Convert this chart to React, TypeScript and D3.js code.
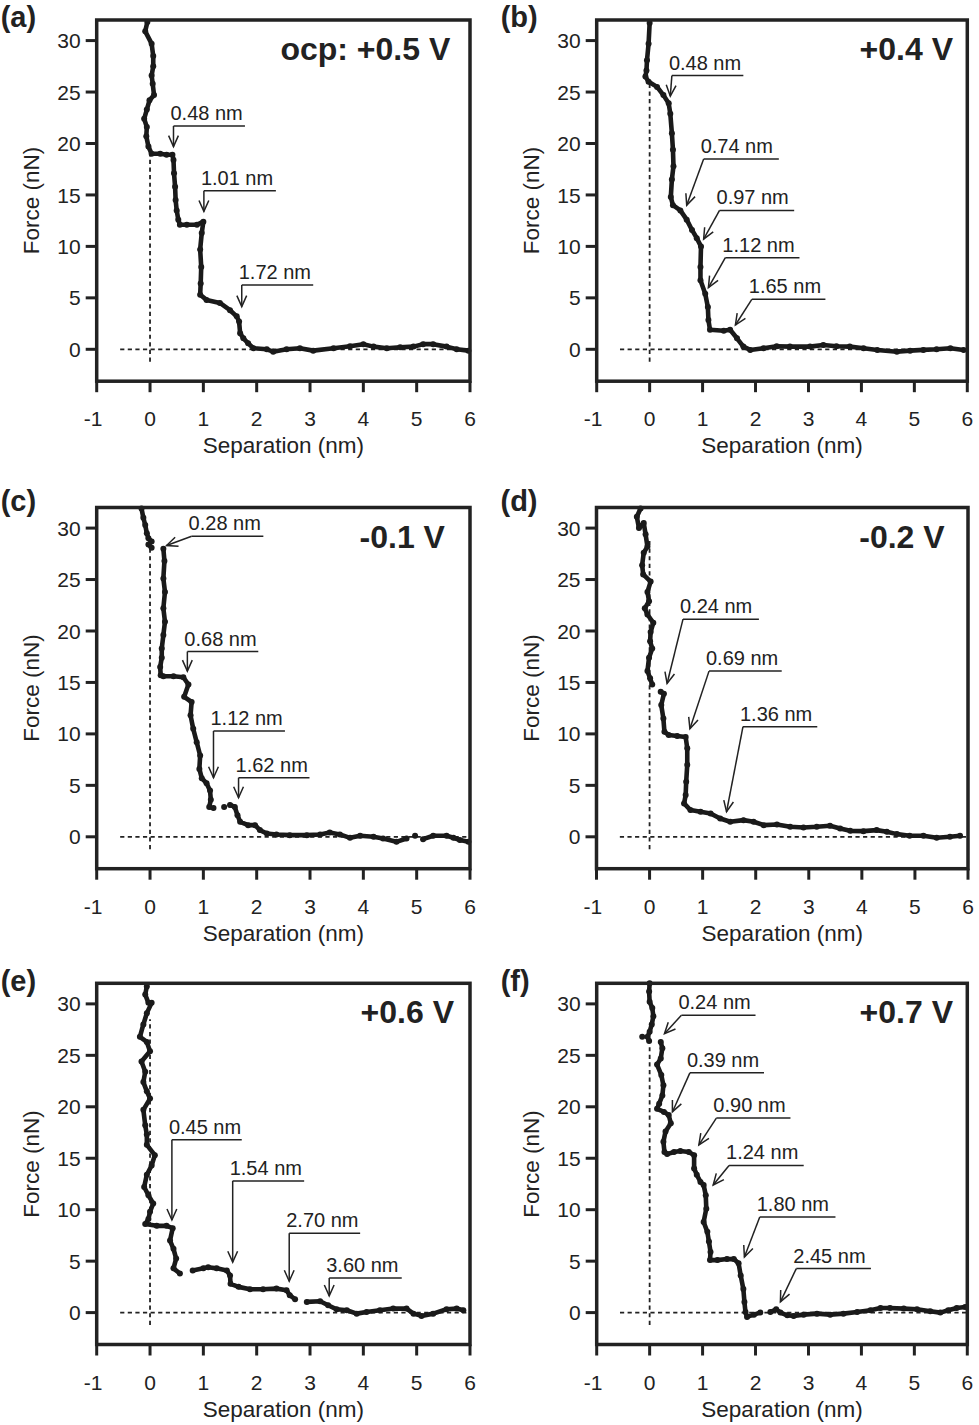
import React from 'react';
import * as d3 from 'd3';

// force-separation curves (separation nm, force nN)
const curveA = [
  [[-0.05, 31.8], [-0.09, 30.9], [0.03, 29.7], [0.06, 28.5], [0.06, 27.5], [0.03, 26.6], [0.05, 25.8], [0.075, 24.7],
   [-0.01, 24.2], [-0.06, 23.3], [-0.11, 22.4], [-0.06, 21.6], [-0.07, 20.7], [-0.03, 19.7], [0.03, 19.0], [0.19, 19.0],
   [0.31, 18.9], [0.42, 18.9], [0.44, 18.4], [0.45, 17.1], [0.47, 15.8], [0.48, 14.5], [0.5, 13.5], [0.53, 12.6],
   [0.56, 12.1], [0.69, 12.1], [0.88, 12.1], [1.0, 12.4], [0.97, 11.3], [0.94, 9.7], [0.96, 8.0], [0.95, 6.4],
   [0.94, 5.3], [1.06, 4.8], [1.31, 4.5], [1.5, 3.8], [1.625, 3.2], [1.67, 2.7], [1.69, 1.55], [1.75, 1.07],
   [1.84, 0.58], [1.94, 0.1], [2.19, 0], [2.31, -0.23], [2.56, 0], [2.81, 0.1], [3.06, -0.13], [3.44, 0.1],
   [3.75, 0.3], [4.0, 0.5], [4.19, 0.26], [4.44, 0.1], [4.69, 0.2], [4.94, 0.26], [5.12, 0.5], [5.31, 0.5],
   [5.56, 0.26], [5.75, 0], [5.97, -0.13]],
];
const curveB = [
  [[0, 31.7], [-0.02, 29.7], [-0.05, 28.1], [-0.06, 27.1], [-0.08, 26.5], [-0.02, 26.0], [0.14, 25.5], [0.26, 24.7],
   [0.36, 23.9], [0.39, 22.9], [0.42, 21.0], [0.44, 19.4], [0.45, 17.8], [0.42, 16.5], [0.40, 14.8], [0.44, 14.0],
   [0.58, 13.5], [0.70, 12.6], [0.80, 11.6], [0.89, 10.8], [0.97, 10.0], [0.96, 8.0], [0.96, 6.7], [1.05, 5.4],
   [1.1, 4.1], [1.11, 2.85], [1.14, 1.9], [1.4, 1.8], [1.52, 1.9], [1.65, 1.07], [1.77, 0.26], [1.9, -0.06],
   [2.15, 0.1], [2.4, 0.3], [2.65, 0.26], [3.03, 0.26], [3.28, 0.42], [3.53, 0.3], [3.78, 0.26], [4.04, 0.1],
   [4.3, -0.06], [4.67, -0.23], [4.92, -0.13], [5.17, -0.06], [5.42, 0], [5.68, 0.1], [5.93, -0.06]],
];
const curveC = [
  [[-0.16, 31.9], [-0.125, 31.0], [-0.09, 30.3], [-0.06, 29.5], [-0.03, 29.0], [0.03, 28.7], [-0.03, 28.4], [0.03, 28.1]],
  [[0.25, 28.0], [0.27, 26.8], [0.25, 25.1], [0.28, 23.8], [0.25, 22.2], [0.28, 20.9], [0.25, 19.6], [0.22, 18.3],
   [0.22, 17.4], [0.19, 16.5], [0.2, 15.7], [0.25, 15.6], [0.44, 15.6], [0.625, 15.5], [0.72, 14.8], [0.64, 13.6],
   [0.78, 13.1], [0.76, 11.8], [0.81, 10.5], [0.875, 9.2], [0.94, 7.9], [0.925, 6.6], [0.97, 5.7], [1.06, 5.2],
   [1.125, 4.5], [1.14, 3.6], [1.11, 2.9], [1.19, 2.8]],
  [[1.39, 2.9]],
  [[1.5, 3.1], [1.59, 2.9], [1.64, 2.1], [1.69, 1.46], [1.84, 1.13], [1.97, 1.13], [2.06, 0.65], [2.19, 0.32],
   [2.37, 0.23], [2.62, 0.16], [2.94, 0.16], [3.19, 0.23], [3.37, 0.42], [3.56, 0.23], [3.75, -0.1], [3.94, 0.1],
   [4.19, 0], [4.37, -0.16], [4.62, -0.49], [4.81, -0.16]],
  [[4.97, 0.1]],
  [[5.12, -0.23], [5.31, 0.1], [5.56, 0.1], [5.69, -0.1], [5.81, -0.32], [5.97, -0.49]],
];
const curveD = [
  [[-0.17, 31.9], [-0.24, 31.1], [-0.2, 30.0], [-0.11, 30.5], [-0.075, 29.4], [-0.04, 28.2], [-0.11, 27.6], [-0.14, 26.4],
   [-0.12, 25.5], [0.02, 24.8], [-0.04, 23.8], [-0.01, 22.9], [-0.09, 22.2], [-0.04, 21.6], [0.07, 20.8], [0.02, 19.9],
   [0.01, 19.0], [0.05, 18.3], [-0.01, 17.4], [-0.04, 16.1], [0.01, 15.4], [0.05, 14.8]],
  [[0.21, 14.1], [0.27, 13.9], [0.22, 12.8], [0.26, 11.5], [0.28, 10.2], [0.36, 9.9], [0.52, 9.8], [0.68, 9.7],
   [0.71, 8.6], [0.71, 7.0], [0.69, 5.35], [0.68, 4.05], [0.65, 3.24], [0.77, 2.6], [0.96, 2.43], [1.15, 2.27],
   [1.33, 1.78], [1.52, 1.46], [1.77, 1.62], [1.96, 1.46], [2.15, 1.13], [2.4, 1.2], [2.65, 0.97], [2.9, 0.9],
   [3.15, 0.97], [3.4, 1.07], [3.59, 0.81], [3.78, 0.58], [4.03, 0.55], [4.28, 0.65], [4.47, 0.49], [4.66, 0.26],
   [4.9, 0.1], [5.16, 0.1], [5.41, -0.1], [5.66, 0], [5.85, 0.1]],
];
const curveE = [
  [[-0.06, 31.7], [-0.09, 30.9], [-0.03, 30.1], [0.03, 30.1], [-0.06, 29.1], [-0.125, 28.0], [-0.19, 26.8], [-0.06, 26.3],
   [0, 25.4], [-0.16, 24.4], [-0.09, 23.4], [-0.125, 22.4], [-0.06, 21.5], [0, 20.8], [-0.125, 19.7], [-0.09, 18.2],
   [-0.06, 17.3], [-0.06, 16.3], [0.09, 15.3], [0.03, 14.3], [-0.06, 13.4], [-0.11, 12.2], [-0.03, 11.4], [0.06, 10.6],
   [0, 9.8], [-0.03, 9.1], [-0.09, 8.6], [0.125, 8.43], [0.31, 8.43], [0.425, 8.2], [0.375, 7.0], [0.44, 6.2],
   [0.49, 5.25], [0.44, 4.3], [0.56, 3.8]],
  [[0.8, 4.1], [1.0, 4.3], [1.09, 4.4], [1.25, 4.3], [1.44, 4.1], [1.5, 3.6], [1.51, 2.8], [1.66, 2.5],
   [1.875, 2.27], [2.12, 2.27], [2.37, 2.33], [2.56, 2.17], [2.62, 1.69], [2.72, 1.3]],
  [[2.94, 1.04], [3.19, 1.1], [3.34, 0.71], [3.5, 0.32], [3.69, 0.23], [3.875, -0.1], [4.06, 0.06], [4.31, 0.23],
   [4.56, 0.39], [4.81, 0.39], [4.94, -0.1], [5.09, -0.32], [5.31, -0.1], [5.56, 0.32], [5.75, 0.39], [5.875, 0.23]],
];
const curveF = [
  [[0, 32.0], [-0.01, 31.2], [0, 30.2], [0.05, 29.6], [0.07, 28.8], [0.04, 28.0], [0, 27.3], [-0.04, 26.8], [-0.01, 26.4]],
  [[-0.14, 26.8]],
  [[0.21, 26.3], [0.24, 25.7], [0.21, 24.7], [0.14, 24.1], [0.22, 23.1], [0.26, 22.1], [0.24, 21.1], [0.18, 20.3],
   [0.14, 19.8], [0.27, 19.5], [0.36, 19.2], [0.4, 18.4], [0.3, 17.6], [0.26, 16.6], [0.28, 15.6], [0.33, 15.4],
   [0.46, 15.6], [0.58, 15.7], [0.74, 15.6], [0.84, 15.3], [0.84, 14.0], [0.89, 13.4], [0.96, 12.7], [1.02, 12.4],
   [1.06, 11.4], [1.07, 10.1], [1.02, 8.8], [1.09, 7.85], [1.12, 6.9], [1.15, 5.9], [1.14, 5.1], [1.28, 5.1],
   [1.46, 5.2], [1.59, 5.2], [1.68, 4.8], [1.72, 3.6], [1.77, 2.3], [1.79, 1.04], [1.81, 0.06], [1.84, -0.42],
   [1.97, -0.2], [2.09, 0]],
  [[2.28, 0.06], [2.39, 0.32], [2.47, 0], [2.6, -0.26], [2.72, -0.32], [2.91, -0.2], [3.16, -0.1], [3.41, -0.2],
   [3.66, -0.1], [3.92, 0.06], [4.17, 0.23], [4.36, 0.45], [4.54, 0.45], [4.8, 0.39], [5.05, 0.32], [5.3, 0.13],
   [5.49, 0], [5.64, 0.23], [5.8, 0.45], [5.96, 0.55]],
];

// rupture annotations: [label, tipX, tipY, elbowX, elbowY, underlineEndX]
const notesA = [
  ['0.48 nm', 0.44, 19.7, 0.44, 21.7, 1.78],
  ['1.01 nm', 1.01, 13.4, 1.01, 15.4, 2.36],
  ['1.72 nm', 1.72, 4.15, 1.72, 6.25, 3.06],
];
const notesB = [
  ['0.48 nm', 0.39, 24.6, 0.42, 26.6, 1.77],
  ['0.74 nm', 0.70, 14.0, 1.02, 18.5, 2.44],
  ['0.97 nm', 1.02, 10.7, 1.32, 13.5, 2.73],
  ['1.12 nm', 1.11, 6.0, 1.43, 8.9, 2.83],
  ['1.65 nm', 1.62, 2.36, 1.93, 4.86, 3.32],
];
const notesC = [
  ['0.28 nm', 0.31, 28.3, 0.78, 29.2, 2.125],
  ['0.68 nm', 0.70, 16.1, 0.70, 18.0, 2.03],
  ['1.12 nm', 1.19, 5.74, 1.19, 10.28, 2.53],
  ['1.62 nm', 1.66, 3.8, 1.66, 5.74, 2.99],
];
const notesD = [
  ['0.24 nm', 0.33, 14.9, 0.63, 21.15, 2.06],
  ['0.69 nm', 0.76, 10.5, 1.12, 16.1, 2.49],
  ['1.36 nm', 1.45, 2.43, 1.76, 10.7, 3.16],
];
const notesE = [
  ['0.45 nm', 0.41, 9.0, 0.41, 16.8, 1.72],
  ['1.54 nm', 1.55, 4.9, 1.55, 12.8, 2.89],
  ['2.70 nm', 2.61, 3.05, 2.61, 7.7, 3.94],
  ['3.60 nm', 3.36, 1.62, 3.36, 3.37, 4.72],
];
const notesF = [
  ['0.24 nm', 0.28, 27.1, 0.6, 28.9, 2.0],
  ['0.39 nm', 0.43, 19.5, 0.76, 23.3, 2.16],
  ['0.90 nm', 0.93, 16.3, 1.26, 18.9, 2.66],
  ['1.24 nm', 1.2, 12.4, 1.5, 14.3, 2.91],
  ['1.80 nm', 1.79, 5.4, 2.08, 9.3, 3.51],
  ['2.45 nm', 2.47, 1.04, 2.77, 4.28, 4.18],
];

const panelLetters = ['(a)', '(b)', '(c)', '(d)', '(e)', '(f)'];
const potentials = ['ocp: +0.5 V', '+0.4 V', '-0.1 V', '-0.2 V', '+0.6 V', '+0.7 V'];
const potentialX = [5.63, 5.73, 5.53, 5.56, 5.7, 5.73];
const zeroLineTop = [19, 26, 28, 29, 28.5, 26];
const curves = [curveA, curveB, curveC, curveD, curveE, curveF];
const notes = [notesA, notesB, notesC, notesD, notesE, notesF];

const xTicks = [-1, 0, 1, 2, 3, 4, 5, 6];
const yTicks = [0, 5, 10, 15, 20, 25, 30];

// page layout
const layout = [
  { left: 96.7, top: 20, width: 373.3, letterDy: 7 },
  { left: 596.7, top: 20, width: 370.6, letterDy: 7 },
  { left: 96.7, top: 507.5, width: 373.3, letterDy: 3.5 },
  { left: 596.5, top: 507.5, width: 371.5, letterDy: 3.5 },
  { left: 96.7, top: 983.3, width: 373.3, letterDy: 7.5 },
  { left: 596.7, top: 983.3, width: 370.6, letterDy: 7.5 },
];
const boxHeight = 361.2;
const font = '"Liberation Sans", Arial, Helvetica, sans-serif';
const ink = '#222';
const trace = '#1a1a1a';

const Panel = ({ i }: { i: number }) => {
  const { left, top, width, letterDy } = layout[i];
  const x = d3.scaleLinear().domain([-1, 6]).range([left, left + width]);
  const y = d3.scaleLinear().domain([-3.1, 32]).range([top + boxHeight, top]);
  const bottom = top + boxHeight;
  const line = d3.line<number[]>().x(d => x(d[0])).y(d => y(d[1]));

  return (
    <g>
      <text x={left - 96} y={top + letterDy} fontSize={29} fontWeight="bold" fill={ink}>{panelLetters[i]}</text>

      {/* zero reference lines */}
      <line x1={x(-0.56)} x2={x(6)} y1={y(0)} y2={y(0)} stroke={ink} strokeWidth={1.8} strokeDasharray="4.2 3.4" />
      <line x1={x(0)} x2={x(0)} y1={y(-1.2)} y2={y(zeroLineTop[i])} stroke={ink} strokeWidth={1.8} strokeDasharray="4.2 3.4" />

      {/* data */}
      {curves[i].map((seg, k) => (
        <g key={k}>
          <path d={line(seg) || ''} fill="none" stroke={trace} strokeWidth={4.6} strokeLinejoin="round" strokeLinecap="round" />
          {seg.map((p, j) => <circle key={j} cx={x(p[0])} cy={y(p[1])} r={3} fill={trace} />)}
        </g>
      ))}

      {/* frame and axes */}
      <rect x={left} y={top} width={width} height={boxHeight} fill="none" stroke={ink} strokeWidth={3.5} />
      {yTicks.map(t => (
        <g key={t}>
          <line x1={left - 11} x2={left} y1={y(t)} y2={y(t)} stroke={ink} strokeWidth={3} />
          <text x={left - 16} y={y(t)} dy="0.36em" textAnchor="end" fontSize={21} fill={ink}>{t}</text>
        </g>
      ))}
      {xTicks.map(t => (
        <g key={t}>
          <line x1={x(t)} x2={x(t)} y1={bottom} y2={bottom + 11} stroke={ink} strokeWidth={3} />
          <text x={t < 0 ? x(t) + 5.8 : x(t)} y={bottom + 45} textAnchor={t < 0 ? 'end' : 'middle'} fontSize={21} fill={ink}>{t}</text>
        </g>
      ))}
      <text x={left + width / 2} y={bottom + 72} textAnchor="middle" fontSize={22.5} fill={ink}>Separation (nm)</text>
      <text transform={`translate(${left - 58},${top + boxHeight / 2}) rotate(-90)`} textAnchor="middle" fontSize={22.5} fill={ink}>Force (nN)</text>

      <text x={x(potentialX[i])} y={top + 40} textAnchor="end" fontSize={32} fontWeight="bold" fill={ink}>{potentials[i]}</text>

      {/* rupture annotations */}
      {notes[i].map((n, k) => {
        const [label, tx, ty, ex, ey, endX] = n as [string, number, number, number, number, number];
        const px = x(tx), py = y(ty), qx = x(ex), qy = y(ey);
        const ang = Math.atan2(py - qy, px - qx);
        const len = 12, spread = 0.42;
        const h1 = [px - len * Math.cos(ang - spread), py - len * Math.sin(ang - spread)];
        const h2 = [px - len * Math.cos(ang + spread), py - len * Math.sin(ang + spread)];
        return (
          <g key={k} stroke={ink} strokeWidth={1.5} fill="none">
            <line x1={qx} y1={qy} x2={x(endX)} y2={qy} />
            <line x1={qx} y1={qy} x2={px} y2={py} />
            <polyline points={`${h1[0]},${h1[1]} ${px},${py} ${h2[0]},${h2[1]}`} />
            <text x={qx - 3} y={qy - 6} fontSize={20} fill={ink} stroke="none">{label}</text>
          </g>
        );
      })}
    </g>
  );
};

const App = () => (
  <svg width={979} height={1425} style={{ position: 'absolute', left: 0, top: 0, background: '#fff' }} fontFamily={font}>
    <rect width={979} height={1425} fill="#fff" />
    {layout.map((_, i) => <Panel key={i} i={i} />)}
  </svg>
);

export default App;
